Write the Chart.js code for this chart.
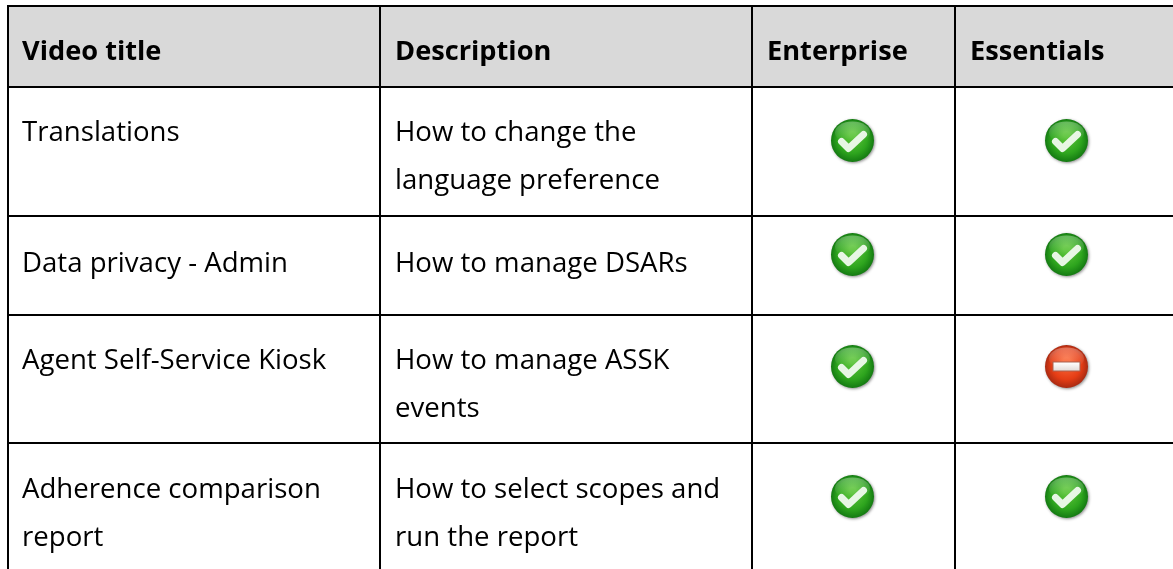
<!DOCTYPE html>
<html>
<head>
<meta charset="utf-8">
<title>Video availability</title>
<script src="https://cdn.jsdelivr.net/npm/chart.js@4"></script>
<style>
    html, body { margin: 0; padding: 0; background: #fff; }
    canvas { display: block; }
</style>
</head>
<body>
<canvas id="videoTable" width="1173" height="569"></canvas>
<script>
// ------------------ DATA ------------------
const headers = ['Video title', 'Description', 'Enterprise', 'Essentials'];
const videoTitles = [['Translations'], ['Data privacy - Admin'], ['Agent Self-Service Kiosk'], ['Adherence comparison', 'report']];
const descriptions = [['How to change the', 'language preference'], ['How to manage DSARs'], ['How to manage ASSK', 'events'], ['How to select scopes and', 'run the report']];
const enterprise = [1, 1, 1, 1];
const essentials = [1, 1, 0, 1];

// ------------------ LAYOUT ------------------
const colEdges = [8, 380, 752, 955];
const rowEdges = [6, 87, 216, 315, 443];
const tableRight = 1173;
const tableBottom = 569;
const textX = [22, 395];
const iconX = [853, 1067];
const iconY = [141, 255, 367, 497];
const headerTextX = [22, 395, 767, 970];
const headerBaseline = 60;
const textBaselines = [[141, 189], [272], [369, 417], [498, 546]];
const LINE_HEIGHT = 48;
const BODY_FONT = "27.6px 'Open Sans', sans-serif";
const HEAD_FONT = "bold 27.2px 'Open Sans', sans-serif";

// ------------------ ICONS ------------------
function makeIcon(kind) {
    const c = document.createElement('canvas');
    c.width = c.height = 50;
    const g = c.getContext('2d');
    const cx = 24.5, cy = 24.5, r = 21.5;

    g.shadowColor = 'rgba(0,0,0,0.45)';
    g.shadowBlur = 3;
    g.shadowOffsetX = 1;
    g.shadowOffsetY = 1;
    const body = g.createRadialGradient(cx, cy - 6, 3, cx, cy, r);
    if (kind === 'yes') {
        body.addColorStop(0, '#5cc43a');
        body.addColorStop(0.65, '#2ea51e');
        body.addColorStop(1, '#147a12');
    } else {
        body.addColorStop(0, '#f9683a');
        body.addColorStop(0.65, '#e53d15');
        body.addColorStop(1, '#a92a12');
    }
    g.fillStyle = body;
    g.beginPath();
    g.arc(cx, cy, r, 0, Math.PI * 2);
    g.fill();
    g.shadowColor = 'transparent';

    // reflet du haut
    const shine = g.createLinearGradient(0, cy - r, 0, cy);
    shine.addColorStop(0, 'rgba(255,255,255,0.35)');
    shine.addColorStop(1, 'rgba(255,255,255,0)');
    g.fillStyle = shine;
    g.beginPath();
    g.ellipse(cx, cy - 8, r - 4, 11, 0, 0, Math.PI * 2);
    g.fill();

    if (kind === 'yes') {
        g.strokeStyle = 'rgba(240,250,238,0.95)';
        g.lineWidth = 7;
        g.lineCap = 'round';
        g.lineJoin = 'round';
        g.beginPath();
        g.moveTo(cx - 11, cy + 1);
        g.lineTo(cx - 4, cy + 8);
        g.lineTo(cx + 11, cy - 6);
        g.stroke();
    } else {
        g.fillStyle = '#a8604f';
        g.fillRect(cx - 14, cy - 5, 28, 10);
        const bar = g.createLinearGradient(0, cy - 4, 0, cy + 4);
        bar.addColorStop(0, '#ffffff');
        bar.addColorStop(1, '#e4dcd8');
        g.fillStyle = bar;
        g.fillRect(cx - 13, cy - 4, 26, 8);
    }
    return c;
}

const iconYes = makeIcon('yes');
const iconNo = makeIcon('no');

// ------------------ DATASETS ------------------
function iconPoints(flag) {
    const pts = [];
    [enterprise, essentials].forEach((col, i) => {
        col.forEach((v, row) => {
            if (v === flag) pts.push({ x: iconX[i], y: iconY[row] });
        });
    });
    return pts;
}

function ruleDataset(a, b) {
    return {
        type: 'line',
        data: [a, b],
        borderColor: '#000',
        borderWidth: 2,
        pointRadius: 0,
        borderCapStyle: 'butt',
        order: 2
    };
}

const rules = [
    ...rowEdges.map(y => ruleDataset({ x: colEdges[0] - 1, y: y }, { x: tableRight, y: y })),
    ...colEdges.map(x => ruleDataset({ x: x, y: rowEdges[0] - 1 }, { x: x, y: tableBottom }))
];

// Fond d'en-tête et textes du tableau
const tablePlugin = {
    id: 'tablePlugin',
    beforeDatasetsDraw(chart) {
        const { ctx, scales: { x, y } } = chart;
        ctx.save();
        ctx.fillStyle = '#d9d9d9';
        ctx.fillRect(x.getPixelForValue(colEdges[0]), y.getPixelForValue(rowEdges[0]),
            x.getPixelForValue(tableRight) - x.getPixelForValue(colEdges[0]),
            y.getPixelForValue(rowEdges[1]) - y.getPixelForValue(rowEdges[0]));
        ctx.restore();
    },
    afterDatasetsDraw(chart) {
        const { ctx, scales: { x, y } } = chart;
        ctx.save();
        ctx.fillStyle = '#000';
        ctx.textBaseline = 'alphabetic';
        ctx.font = HEAD_FONT;
        headers.forEach((h, i) => {
            ctx.fillText(h, x.getPixelForValue(headerTextX[i]), y.getPixelForValue(headerBaseline));
        });
        ctx.font = BODY_FONT;
        [videoTitles, descriptions].forEach((col, i) => {
            col.forEach((lines, row) => {
                lines.forEach((line, n) => {
                    const base = textBaselines[row][0] + n * LINE_HEIGHT;
                    ctx.fillText(line, x.getPixelForValue(textX[i]), y.getPixelForValue(base));
                });
            });
        });
        ctx.restore();
    }
};

new Chart(document.getElementById('videoTable'), {
    type: 'scatter',
    data: {
        datasets: [
            ...rules,
            { label: 'Available', data: iconPoints(1), pointStyle: iconYes, pointRadius: 22, order: 1 },
            { label: 'Not available', data: iconPoints(0), pointStyle: iconNo, pointRadius: 22, order: 1 }
        ]
    },
    plugins: [tablePlugin],
    options: {
        responsive: false,
        animation: false,
        layout: { padding: 0, autoPadding: false },
        plugins: { legend: { display: false }, tooltip: { enabled: false } },
        scales: {
            x: { type: 'linear', min: 0, max: tableRight, display: false },
            y: { type: 'linear', min: 0, max: tableBottom, reverse: true, display: false }
        }
    }
});
</script>
</body>
</html>
